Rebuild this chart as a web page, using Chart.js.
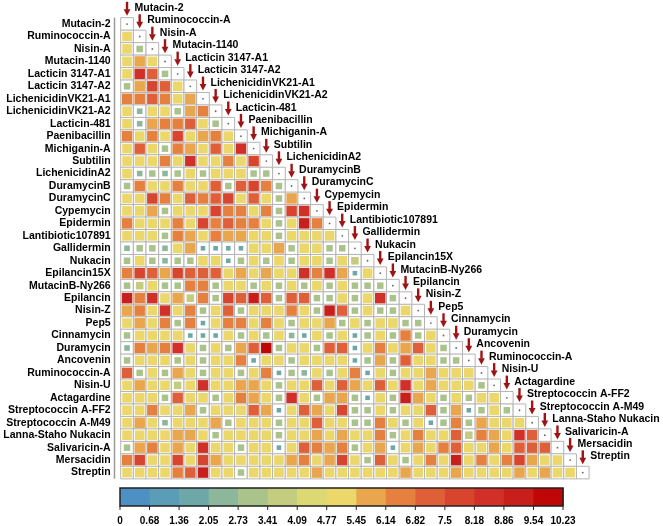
<!DOCTYPE html>
<html>
<head>
<meta charset="utf-8">
<script src="https://cdn.jsdelivr.net/npm/chart.js@4.4.0/dist/chart.umd.min.js"></script>
<style>
  html, body { margin: 0; padding: 0; background: #fff; }
  #wrap { width: 663px; height: 526px; position: relative; }
</style>
</head>
<body>
<div id="wrap"><canvas id="heat"></canvas></div>
<script>
// peptide names (rows top to bottom, columns left to right)
const labels = [
  'Mutacin-2', 'Ruminococcin-A', 'Nisin-A', 'Mutacin-1140', 'Lacticin 3147-A1',
  'Lacticin 3147-A2', 'LichenicidinVK21-A1', 'LichenicidinVK21-A2', 'Lacticin-481',
  'Paenibacillin', 'Michiganin-A', 'Subtilin', 'LichenicidinA2', 'DuramycinB',
  'DuramycinC', 'Cypemycin', 'Epidermin', 'Lantibiotic107891', 'Gallidermin', 'Nukacin',
  'Epilancin15X', 'MutacinB-Ny266', 'Epilancin', 'Nisin-Z', 'Pep5', 'Cinnamycin',
  'Duramycin', 'Ancovenin', 'Ruminococcin-A', 'Nisin-U', 'Actagardine',
  'Streptococcin A-FF2', 'Streptococcin A-M49', 'Lanna-Staho Nukacin', 'Salivaricin-A',
  'Mersacidin', 'Streptin'
];

// colour bar
const cbTicks = ['0', '0.68', '1.36', '2.05', '2.73', '3.41', '4.09', '4.77', '5.45',
  '6.14', '6.82', '7.5', '8.18', '8.86', '9.54', '10.23'];
const cbColors = ['#4e8fc4', '#5b9cb6', '#6ea7a7', '#8db79a', '#a9c38b', '#c3cc7f',
  '#dcd974', '#ecd86a', '#e9a64c', '#e5803f', '#df6038', '#d8452f', '#d03027',
  '#c81f1c', '#c00707'];
const vMax = 10.23;

// lower triangle, row i has i values (columns 0..i-1)
const scores = [
  [],
  [5.1],
  [5.1, 3.0],
  [5.1, 5.8, 5.1],
  [5.1, 8.5, 7.2, 3.0],
  [3.0, 5.8, 7.8, 7.2, 5.1],
  [6.5, 6.5, 7.2, 6.5, 5.1, 5.8],
  [5.1, 2.4, 5.1, 5.1, 3.0, 5.8, 6.5],
  [5.1, 2.4, 5.8, 6.5, 6.5, 7.2, 5.1, 3.0],
  [6.5, 5.1, 6.5, 5.1, 7.8, 5.1, 5.8, 6.5, 5.1],
  [5.1, 7.2, 5.1, 3.0, 6.5, 5.8, 5.1, 7.2, 5.1, 8.5],
  [5.1, 5.1, 5.1, 6.5, 5.1, 8.5, 5.1, 5.1, 6.5, 5.1, 7.8],
  [5.1, 2.4, 3.0, 2.4, 3.0, 5.1, 3.0, 5.1, 5.1, 5.1, 3.0, 3.0],
  [3.0, 6.5, 5.1, 5.1, 6.5, 5.1, 5.1, 7.2, 3.0, 7.2, 7.8, 6.5, 3.0],
  [5.1, 5.1, 7.8, 6.5, 5.1, 7.2, 6.5, 7.2, 7.8, 5.1, 7.2, 5.1, 3.0, 5.8],
  [5.1, 5.1, 5.8, 3.0, 5.1, 5.1, 5.1, 7.8, 6.5, 6.5, 5.1, 6.5, 3.0, 7.8, 8.5],
  [6.5, 5.1, 5.1, 5.1, 6.5, 5.1, 7.8, 6.5, 7.2, 6.5, 6.5, 5.1, 3.0, 5.1, 9.2, 6.5],
  [5.1, 5.1, 5.1, 3.0, 6.5, 5.8, 5.1, 6.5, 5.8, 5.8, 5.1, 5.1, 3.0, 5.1, 5.1, 5.1, 5.1],
  [2.4, 3.0, 3.0, 2.4, 5.1, 5.8, 1.7, 1.7, 1.7, 1.7, 5.1, 5.1, 5.8, 3.0, 5.1, 5.1, 3.0, 3.0],
  [3.0, 5.1, 3.0, 2.4, 3.0, 3.0, 5.1, 5.1, 1.7, 3.0, 5.1, 3.0, 5.1, 3.0, 5.1, 5.1, 3.0, 5.1, 3.7],
  [6.5, 7.8, 7.2, 5.8, 7.8, 7.2, 7.2, 7.2, 5.1, 5.8, 5.1, 5.8, 5.1, 5.1, 8.5, 6.5, 8.5, 5.8, 1.7, 5.1],
  [3.0, 3.7, 5.1, 3.0, 3.0, 6.5, 6.5, 3.0, 5.1, 5.1, 3.0, 5.1, 3.0, 5.1, 3.0, 5.1, 3.0, 5.1, 3.0, 3.0, 3.0],
  [9.2, 6.5, 8.5, 5.1, 5.8, 3.7, 6.5, 3.0, 7.8, 7.2, 9.2, 7.2, 3.0, 7.2, 7.2, 3.0, 3.0, 5.1, 3.0, 5.1, 8.5, 3.0],
  [5.8, 6.5, 5.1, 8.5, 5.1, 6.5, 3.0, 5.1, 7.2, 3.0, 5.1, 5.1, 5.1, 6.5, 5.1, 3.0, 9.2, 7.2, 3.0, 5.1, 3.0, 3.0, 5.1],
  [5.1, 5.8, 5.1, 6.5, 3.0, 6.5, 1.7, 5.1, 6.5, 6.5, 5.1, 6.5, 5.1, 3.0, 5.1, 5.1, 5.8, 3.0, 5.1, 3.0, 5.1, 5.1, 3.0, 3.0],
  [3.0, 5.1, 5.1, 5.1, 5.1, 1.7, 1.7, 1.7, 5.1, 3.0, 5.1, 3.0, 5.1, 2.4, 1.7, 5.1, 3.0, 5.1, 1.7, 3.0, 5.1, 3.0, 6.5, 3.0, 5.1],
  [2.4, 6.5, 5.8, 6.5, 8.5, 5.1, 3.0, 5.1, 3.0, 5.8, 7.2, 9.9, 3.0, 5.1, 5.1, 3.0, 7.2, 7.2, 1.7, 5.1, 6.5, 5.1, 5.8, 7.2, 5.1, 3.0],
  [3.0, 5.1, 5.1, 5.1, 3.0, 5.1, 3.0, 5.1, 5.1, 6.5, 1.7, 5.1, 5.1, 3.0, 5.1, 5.1, 5.1, 5.1, 1.7, 3.0, 5.8, 3.0, 7.2, 5.1, 5.1, 3.0, 3.0],
  [7.2, 3.0, 5.1, 3.0, 5.8, 5.1, 3.0, 5.1, 5.1, 3.0, 5.1, 6.5, 1.7, 3.0, 2.4, 5.1, 3.0, 5.1, 6.5, 1.7, 5.1, 3.0, 5.1, 5.1, 5.8, 5.1, 5.1, 5.1],
  [5.1, 5.8, 5.1, 5.1, 3.7, 5.1, 8.5, 5.1, 5.1, 5.8, 5.8, 5.1, 3.0, 5.1, 5.1, 7.2, 5.1, 7.2, 5.8, 5.1, 7.2, 5.1, 8.5, 5.1, 5.8, 5.1, 5.1, 5.1, 3.0],
  [5.1, 5.1, 5.1, 3.0, 7.2, 5.1, 5.1, 3.0, 5.1, 6.5, 5.8, 5.1, 3.0, 8.5, 5.1, 3.0, 5.8, 5.8, 3.0, 1.7, 5.1, 3.0, 9.2, 5.8, 5.1, 3.0, 5.1, 3.0, 5.1, 5.1],
  [5.1, 5.1, 6.5, 5.1, 5.1, 5.8, 3.0, 5.1, 5.1, 5.1, 7.2, 5.8, 1.7, 5.1, 7.2, 5.8, 5.1, 7.8, 3.0, 3.0, 5.1, 3.0, 5.1, 5.1, 7.2, 3.0, 5.8, 1.7, 3.0, 5.1, 3.0],
  [5.1, 5.8, 5.1, 2.4, 5.1, 5.1, 5.1, 5.8, 3.0, 5.1, 5.1, 5.1, 3.0, 5.1, 5.1, 7.2, 5.1, 5.1, 3.0, 3.0, 6.5, 5.1, 3.0, 5.1, 1.7, 3.0, 6.5, 3.0, 5.8, 5.1, 5.1, 5.1],
  [5.1, 5.1, 5.1, 5.1, 5.8, 5.8, 5.1, 3.0, 5.1, 5.1, 5.1, 5.1, 3.0, 5.1, 5.1, 5.8, 5.1, 5.8, 5.1, 5.1, 6.5, 3.0, 5.1, 6.5, 5.1, 5.1, 7.2, 3.7, 6.5, 5.8, 5.1, 8.5, 7.2],
  [3.0, 5.8, 6.5, 5.1, 5.8, 5.1, 8.5, 5.1, 5.1, 3.0, 5.1, 5.1, 1.7, 5.1, 7.2, 6.5, 5.8, 6.5, 3.0, 5.1, 5.8, 1.7, 5.1, 5.8, 5.1, 6.5, 7.2, 5.1, 5.1, 5.8, 5.1, 7.2, 7.2, 7.2],
  [6.5, 7.8, 5.1, 5.1, 7.8, 5.1, 7.8, 5.8, 5.1, 5.1, 5.1, 5.1, 5.1, 5.8, 6.5, 5.1, 5.8, 7.8, 5.1, 3.0, 7.2, 5.1, 3.0, 5.1, 6.5, 5.1, 9.2, 5.1, 6.5, 5.1, 6.5, 7.8, 5.8, 5.1, 5.1],
  [5.1, 5.1, 5.1, 5.1, 6.5, 7.2, 9.2, 5.1, 5.1, 3.0, 5.1, 5.1, 5.1, 5.1, 5.1, 5.8, 5.1, 5.1, 5.1, 5.1, 5.1, 5.1, 5.8, 5.1, 5.1, 5.1, 5.8, 5.1, 5.1, 5.1, 5.1, 5.8, 5.1, 5.8, 5.1, 5.1]
];

// build point lists
const cellPts = [];
const valuePts = [];
const diagPts = [];
scores.forEach((row, r) => {
  row.forEach((v, c) => {
    cellPts.push({ x: c + 0.5, y: r + 0.5 });
    valuePts.push({ x: c + 0.5, y: r + 0.5, v: v });
  });
  cellPts.push({ x: r + 0.5, y: r + 0.5 });
  diagPts.push({ x: r + 0.5, y: r + 0.5 });
});

function colorFor(v) {
  const k = Math.max(0, Math.min(cbColors.length - 1, Math.floor(v / vMax * cbColors.length)));
  return cbColors[k];
}
function sideFor(v) {
  return Math.min(10.5, 2 + 1.5 * v);
}
function cellSide(chart) {
  const x = chart.scales.x;
  return x.getPixelForValue(1) - x.getPixelForValue(0);
}

const decor = {
  id: 'decor',
  afterDatasetsDraw(chart) {
    const { ctx, chartArea } = chart;
    const x = chart.scales.x, y = chart.scales.y;
    ctx.save();

    // left axis line
    ctx.strokeStyle = '#9a9a9a';
    ctx.lineWidth = 1.5;
    ctx.beginPath();
    ctx.moveTo(114.5, chartArea.top);
    ctx.lineTo(114.5, chartArea.bottom);
    ctx.stroke();

    // arrows + names along the diagonal
    ctx.font = 'bold 10.5px "Liberation Sans", Arial, sans-serif';
    ctx.textBaseline = 'middle';
    ctx.textAlign = 'left';
    labels.forEach((name, i) => {
      const xc = x.getPixelForValue(i + 0.5);
      const top = y.getPixelForValue(i);
      const tip = top - 2;
      ctx.fillStyle = '#9e1414';
      ctx.fillRect(xc - 1.2, tip - 14, 2.4, 8);
      ctx.beginPath();
      ctx.moveTo(xc - 3.4, tip - 6.5);
      ctx.lineTo(xc + 3.4, tip - 6.5);
      ctx.lineTo(xc, tip);
      ctx.closePath();
      ctx.fill();
      ctx.fillStyle = '#000';
      ctx.fillText(name, xc + 7.5, top - 9.8);
    });

    // colour bar
    const cbL = 120, cbR = 563, cbT = 488, cbB = 506;
    const w = (cbR - cbL) / cbColors.length;
    cbColors.forEach((c, k) => {
      ctx.fillStyle = c;
      ctx.fillRect(cbL + k * w, cbT, w + 0.6, cbB - cbT);
    });
    ctx.strokeStyle = '#222';
    ctx.lineWidth = 1.5;
    ctx.strokeRect(cbL, cbT, cbR - cbL, cbB - cbT);
    ctx.lineWidth = 1;
    ctx.font = 'bold 10px "Liberation Sans", Arial, sans-serif';
    ctx.textAlign = 'center';
    ctx.fillStyle = '#000';
    cbTicks.forEach((t, k) => {
      const tx = cbL + k * w;
      ctx.beginPath();
      ctx.moveTo(tx, cbB);
      ctx.lineTo(tx, cbB + 4);
      ctx.stroke();
      ctx.fillText(t, tx, 521);
    });
    ctx.restore();
  }
};

new Chart(document.getElementById('heat'), {
  type: 'scatter',
  data: {
    datasets: [
      {
        data: cellPts,
        order: 3,
        pointStyle: 'rect',
        backgroundColor: '#fff',
        borderColor: '#b4b4b4',
        borderWidth: 1,
        pointRadius: ctx => cellSide(ctx.chart) * Math.SQRT1_2,
        clip: false
      },
      {
        data: valuePts,
        order: 2,
        pointStyle: 'rect',
        backgroundColor: ctx => (ctx.raw ? colorFor(ctx.raw.v) : '#fff'),
        borderWidth: 0,
        pointRadius: ctx => (ctx.raw ? sideFor(ctx.raw.v) * Math.SQRT1_2 : 0),
        clip: false
      },
      {
        data: diagPts,
        order: 1,
        pointStyle: 'circle',
        backgroundColor: '#666',
        borderWidth: 0,
        pointRadius: 0.9,
        clip: false
      }
    ]
  },
  options: {
    responsive: true,
    maintainAspectRatio: false,
    animation: false,
    events: [],
    layout: { padding: { left: 0, top: 17.8, right: 73.9, bottom: 47.2 } },
    plugins: { legend: { display: false }, tooltip: { enabled: false } },
    scales: {
      x: { type: 'linear', min: 0, max: 37, display: false },
      y: {
        type: 'linear', min: 0, max: 37, reverse: true,
        afterBuildTicks: s => { s.ticks = labels.map((_, i) => ({ value: i + 0.5 })); },
        afterFit: s => { s.width = 120.7; },
        ticks: {
          autoSkip: false,
          padding: 10,
          color: '#000',
          font: { family: '"Liberation Sans", Arial, sans-serif', size: 10.5, weight: 'bold' },
          callback: (v, i) => labels[i]
        },
        grid: { display: false, drawTicks: false },
        border: { display: false }
      }
    }
  },
  plugins: [decor]
});
</script>
</body>
</html>
